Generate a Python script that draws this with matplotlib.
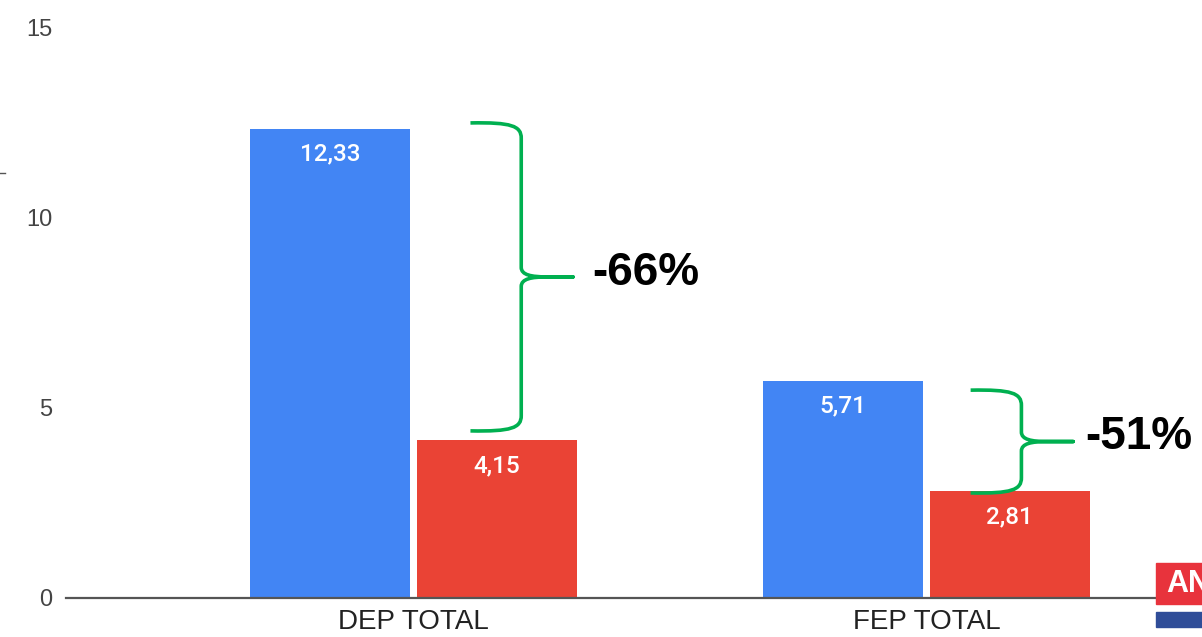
import matplotlib.pyplot as plt
from matplotlib.path import Path
from matplotlib.patches import PathPatch, Rectangle
from matplotlib.lines import Line2D

# du lieu
categories = ["DEP TOTAL", "FEP TOTAL"]
before = [12.33, 5.71]
after = [4.15, 2.81]
before_labels = ["12,33", "5,71"]
after_labels = ["4,15", "2,81"]
changes = ["-66%", "-51%"]

# vi tri dau ngoac (annotation)
brace_top = [12.48, 5.46]
brace_bot = [4.39, 2.76]
text_gap = [0.037, 0.023]

blue = "#4285f4"
red = "#ea4335"
green = "#00b050"

fig = plt.figure(figsize=(12.02, 6.37), dpi=100)
ax = fig.add_axes([66 / 1202, 39 / 637, 1089 / 1202, 571 / 637])

x = list(range(len(categories)))
w = 0.312
off = 0.1625
ax.bar([i - off for i in x], before, width=w, color=blue)
ax.bar([i + off for i in x], after, width=w, color=red)

for i in x:
    ax.annotate(before_labels[i], (i - off, before[i]), xytext=(0, -23),
                textcoords="offset points", ha="center", va="baseline",
                color="white", fontsize=17.5, family="Roboto", fontweight="medium")
    ax.annotate(after_labels[i], (i + off, after[i]), xytext=(0, -23),
                textcoords="offset points", ha="center", va="baseline",
                color="white", fontsize=17.5, family="Roboto", fontweight="medium")


def brace(ax, x0, top, bot, label, gap):
    # x0: dau ngoac, xv: doan thang dung, xt: mui nhon
    xv = x0 + 0.099
    xt = x0 + 0.2
    mid = (top + bot) / 2
    verts = [
        (x0, top), (x0 + 0.08, top + 0.02), (xv, top - 0.08), (xv, top - 0.4),
        (xv, mid + 0.25),
        (xv, mid + 0.05), (xv + 0.02, mid), (xv + 0.05, mid),
        (xt, mid),
        (xv + 0.05, mid),
        (xv + 0.02, mid), (xv, mid - 0.05), (xv, mid - 0.25),
        (xv, bot + 0.4),
        (xv, bot + 0.08), (x0 + 0.08, bot - 0.02), (x0, bot),
    ]
    codes = [Path.MOVETO, Path.CURVE4, Path.CURVE4, Path.CURVE4,
             Path.LINETO,
             Path.CURVE4, Path.CURVE4, Path.CURVE4,
             Path.LINETO,
             Path.LINETO,
             Path.CURVE4, Path.CURVE4, Path.CURVE4,
             Path.LINETO,
             Path.CURVE4, Path.CURVE4, Path.CURVE4]
    ax.add_patch(PathPatch(Path(verts, codes), fill=False, edgecolor=green,
                           lw=2.6, capstyle="butt", joinstyle="round"))
    ax.text(xt + gap, mid - 0.2, label, fontsize=33, fontweight="bold",
            family=["Liberation Sans", "DejaVu Sans"], va="baseline",
            ha="left", color="black", clip_on=False)


brace(ax, 0.111, brace_top[0], brace_bot[0], changes[0], text_gap[0])
brace(ax, 1.086, brace_top[1], brace_bot[1], changes[1], text_gap[1])

ax.set_xlim(-0.6774, 1.4454)
ax.set_ylim(0, 15)
ax.set_yticks([0, 5, 10, 15])
ax.set_xticks(x)
ax.set_xticklabels(categories, fontsize=20, color="#222222",
                   family=["Liberation Sans", "DejaVu Sans"])
for t in ax.get_yticklabels():
    t.set_family(["Liberation Sans", "DejaVu Sans"])
ax.tick_params(axis="y", length=0, pad=10, labelsize=17, labelcolor="#444444")
ax.tick_params(axis="x", length=0, pad=8)

for s in ["top", "right", "left"]:
    ax.spines[s].set_visible(False)
ax.spines["bottom"].set_color("#555555")
ax.spines["bottom"].set_linewidth(1.6)

# logo goc duoi phai
fig.add_artist(Rectangle((1156 / 1202, 33 / 637), 60 / 1202, 41 / 637,
                         transform=fig.transFigure, color="#e8333c"))
fig.add_artist(Rectangle((1156 / 1202, 10 / 637), 60 / 1202, 15 / 637,
                         transform=fig.transFigure, color="#2f4d98"))
fig.text(1166 / 1202, 53 / 637, "AN", color="white", fontsize=22,
         fontweight="bold", family="Liberation Sans", va="center")

# vach nho ben trai
fig.add_artist(Line2D([0, 5 / 1202], [1 - 173 / 637] * 2,
                      transform=fig.transFigure, color="#555555", lw=1))

fig.savefig("out.png", dpi=100)
